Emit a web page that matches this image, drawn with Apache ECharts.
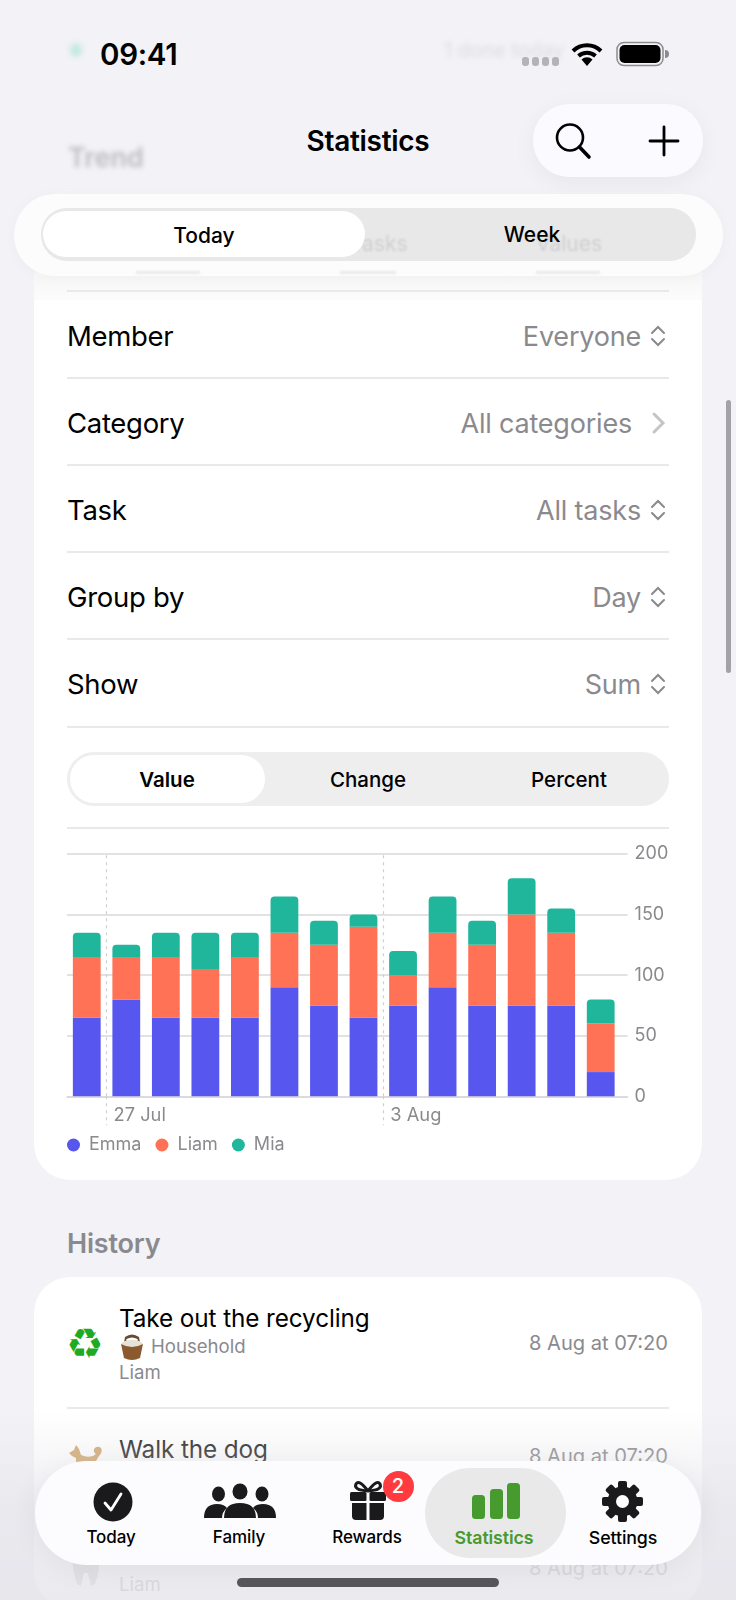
<!DOCTYPE html>
<html>
<head>
<meta charset="utf-8">
<title>Statistics</title>
<script src="https://cdn.jsdelivr.net/npm/echarts@6/dist/echarts.min.js"></script>
<style>
  html, body { margin: 0; padding: 0; }
  body { width: 736px; height: 1600px; position: relative; overflow: hidden; background: #f2f2f7; font-family: Inter, "Noto Sans", sans-serif; color: #000; }
  .abs { position: absolute; }
  .t { position: absolute; white-space: nowrap; transform: translateY(-50%); }
  .r { position: absolute; white-space: nowrap; transform: translateY(-50%); text-align: right; }
  .c { position: absolute; white-space: nowrap; transform: translate(-50%, -50%); }
  .card { position: absolute; left: 34px; width: 668px; background: #fff; border-radius: 36px; }
  .line { position: absolute; left: 67px; width: 602px; height: 2px; background: #e9e9ec; }
  .rowName { font-size: 27.5px; letter-spacing: -0.3px; }
  .rowVal { font-size: 27px; color: #8a8a8e; letter-spacing: -0.2px; right: 95px; }
  .sub { font-size: 18.6px; color: #8a8a8e; }
  .date { font-size: 20.1px; color: #8a8a8e; right: 68px; }
  .tab { font-size: 17px; font-weight: 500; top: 1537px; letter-spacing: -0.1px; }
  svg { position: absolute; overflow: visible; }
  #chart { position: absolute; left: 0; top: 820px; width: 736px; height: 345px; }
</style>
</head>
<body>
  <!-- blurred page behind the bars -->
  <div class="abs" style="left:70px;top:43px;width:12px;height:14px;border-radius:7px;background:#c6e9e2;filter:blur(2.5px)"></div>
  <div class="t" style="left:444px;top:50px;font-size:20px;color:#dcdce0;filter:blur(2.5px)">1 done today</div>
  <div class="t" style="left:68px;top:157px;font-size:27px;font-weight:600;color:#bcbcc0;filter:blur(2.5px)">Trend</div>

  <div class="card" style="top:190px;height:990px;"></div>
  <div class="abs" style="left:34px;top:190px;width:668px;height:110px;border-radius:36px 36px 0 0;background:linear-gradient(#f4f4f8,#f7f7f8 80%,#fcfcfc)"></div>

  <!-- status bar -->
  <div class="t" style="left:100px;top:54px;font-size:29.5px;font-weight:600;letter-spacing:-0.3px">09:41</div>
  <svg style="left:522px;top:57px" width="38" height="10"><g fill="#b4b4b8"><rect x="0" y="0" width="7" height="9" rx="3"/><rect x="10" y="0" width="7" height="9" rx="3"/><rect x="20" y="0" width="7" height="9" rx="3"/><rect x="30" y="0" width="7" height="9" rx="3"/></g></svg>
  <svg style="left:571px;top:42px" width="32" height="24" viewBox="0 0 32 24">
    <path d="M2 9 A20 20 0 0 1 30 9" fill="none" stroke="#000" stroke-width="4"/>
    <path d="M7.5 14 A13 13 0 0 1 24.5 14" fill="none" stroke="#000" stroke-width="4"/>
    <path d="M16 24 L10.5 17.5 A8 8 0 0 1 21.500 17.500 Z" fill="#000"/>
  </svg>
  <svg style="left:616px;top:41px" width="54" height="26" viewBox="0 0 54 26">
    <rect x="1" y="1.500" width="46" height="23" rx="7" fill="none" stroke="#8c8c8e" stroke-width="1.500"/>
    <rect x="3.500" y="4" width="41" height="18" rx="5" fill="#000"/>
    <path d="M49 9 a4 4 0 0 1 0 8 z" fill="#8c8c8e"/>
  </svg>

  <!-- nav -->
  <div class="c" style="left:368px;top:141px;font-size:28px;font-weight:600;letter-spacing:-0.3px">Statistics</div>
  <div class="abs" style="left:533px;top:104px;width:170px;height:73px;border-radius:36px;background:#fafaff;box-shadow:0 6px 24px rgba(0,0,0,0.05)"></div>
  <svg style="left:554px;top:122px" width="40" height="40">
    <circle cx="16" cy="15.500" r="13" fill="none" stroke="#000" stroke-width="2.600"/>
    <line x1="25.500" y1="25" x2="35" y2="35" stroke="#000" stroke-width="3.600" stroke-linecap="round"/>
  </svg>
  <svg style="left:648px;top:125px" width="32" height="32">
    <line x1="16" y1="2" x2="16" y2="30" stroke="#000" stroke-width="2.800" stroke-linecap="round"/>
    <line x1="2" y1="16" x2="30" y2="16" stroke="#000" stroke-width="2.800" stroke-linecap="round"/>
  </svg>

  <!-- today/week switch, page text shows through the track -->
  <div class="abs" style="left:14px;top:194px;width:709px;height:82px;border-radius:41px;background:rgba(252,252,252,0.96);box-shadow:0 2px 14px rgba(0,0,0,0.03)"></div>
  <div class="abs" style="left:136px;top:271px;width:64px;height:3px;background:#dedee0;opacity:0.6;filter:blur(1px)"></div>
  <div class="abs" style="left:340px;top:271px;width:56px;height:3px;background:#dedee0;opacity:0.6;filter:blur(1px)"></div>
  <div class="abs" style="left:536px;top:271px;width:64px;height:3px;background:#dedee0;opacity:0.6;filter:blur(1px)"></div>
  <div class="abs" style="left:41px;top:208px;width:655px;height:53px;border-radius:26px;background:#e8e8e9"></div>
  <div class="t" style="left:350px;top:243px;font-size:21px;color:#cfcfd1;filter:blur(1.2px)">Tasks</div>
  <div class="t" style="left:536px;top:243px;font-size:21px;color:#cfcfd1;filter:blur(1.2px)">Values</div>
  <div class="abs" style="left:43px;top:211px;width:322px;height:46px;border-radius:23px;background:#fff"></div>
  <div class="c" style="left:204px;top:235px;font-size:21px;font-weight:500">Today</div>
  <div class="c" style="left:532px;top:234px;font-size:21px;font-weight:500">Week</div>

  <!-- filter rows -->
  <div class="line" style="top:290px"></div>
  <div class="t rowName" style="left:67px;top:336px">Member</div>
  <div class="r rowVal" style="top:336px">Everyone</div>
  <div class="line" style="top:377px"></div>
  <div class="t rowName" style="left:67px;top:423px">Category</div>
  <div class="r rowVal" style="top:423px;right:104px">All categories</div>
  <div class="line" style="top:464px"></div>
  <div class="t rowName" style="left:67px;top:510px">Task</div>
  <div class="r rowVal" style="top:510px">All tasks</div>
  <div class="line" style="top:551px"></div>
  <div class="t rowName" style="left:67px;top:597px">Group by</div>
  <div class="r rowVal" style="top:597px">Day</div>
  <div class="line" style="top:638px"></div>
  <div class="t rowName" style="left:67px;top:684px">Show</div>
  <div class="r rowVal" style="top:684px">Sum</div>
  <div class="line" style="top:726px"></div>
  <svg style="left:650px;top:325px" width="16" height="22"><path d="M2 8 L8 2 L14 8 M2 14 L8 20 L14 14" fill="none" stroke="#8a8a8e" stroke-width="2" stroke-linecap="round"/></svg>
  <svg style="left:650px;top:499px" width="16" height="22"><path d="M2 8 L8 2 L14 8 M2 14 L8 20 L14 14" fill="none" stroke="#8a8a8e" stroke-width="2" stroke-linecap="round"/></svg>
  <svg style="left:650px;top:586px" width="16" height="22"><path d="M2 8 L8 2 L14 8 M2 14 L8 20 L14 14" fill="none" stroke="#8a8a8e" stroke-width="2" stroke-linecap="round"/></svg>
  <svg style="left:650px;top:673px" width="16" height="22"><path d="M2 8 L8 2 L14 8 M2 14 L8 20 L14 14" fill="none" stroke="#8a8a8e" stroke-width="2" stroke-linecap="round"/></svg>
  <svg style="left:652px;top:412px" width="14" height="22"><path d="M2 2 L11 11 L2 20" fill="none" stroke="#c5c5c8" stroke-width="3" stroke-linecap="round"/></svg>

  <!-- value/change/percent -->
  <div class="abs" style="left:67px;top:752px;width:602px;height:54px;border-radius:27px;background:#eeeeef"></div>
  <div class="abs" style="left:70px;top:755px;width:195px;height:48px;border-radius:24px;background:#fff"></div>
  <div class="c" style="left:167px;top:779px;font-size:20.5px;font-weight:600">Value</div>
  <div class="c" style="left:368px;top:779px;font-size:20.5px;font-weight:500">Change</div>
  <div class="c" style="left:569px;top:779px;font-size:20.5px;font-weight:500">Percent</div>
  <div class="line" style="top:827px"></div>

  <div id="chart"></div>

  <!-- history -->
  <div class="t" style="left:67px;top:1243px;font-size:27px;font-weight:600;color:#8a8a8e;letter-spacing:-0.2px">History</div>
  <div class="card" style="top:1277px;height:330px;"></div>
  <div class="t" style="left:66px;top:1343px;font-size:42px;color:#1faa24;font-family:'DejaVu Sans'">♻</div>
  <div class="t" style="left:119px;top:1318px;font-size:24.3px;letter-spacing:-0.1px">Take out the recycling</div>
  <svg style="left:120px;top:1335px" width="24" height="26"><path d="M5 2 Q12 -3 19 2 L20 8 L18 8 L17.500 4 Q12 1 6.500 4 L6 8 L4 8 Z" fill="#6a4a2c"/><ellipse cx="12" cy="9" rx="11" ry="4" fill="#e6e2d8"/><path d="M1 9 Q12 15 23 9 L20 23 Q12 27 4 23 Z" fill="#8a5a2e"/></svg>
  <div class="t sub" style="left:151px;top:1346px">Household</div>
  <div class="t sub" style="left:119px;top:1372px">Liam</div>
  <div class="r date" style="top:1343px">8 Aug at 07:20</div>
  <div class="line" style="top:1407px"></div>
  <svg style="left:69px;top:1445px" width="34" height="22"><path d="M0 8 L5 5 L7 0 L10 4 L12 10 Q18 13 24 11 L27 9 Q24 7 25 4 Q28 0 32 3 Q34 7 30 11 L27 16 L27 22 L7 22 L7 13 L3 11 Z" fill="#d3a76c"/></svg>
  <div class="t" style="left:119px;top:1449px;font-size:24.3px;letter-spacing:-0.1px;color:#222">Walk the dog</div>
  <div class="abs" style="left:120px;top:1475px;width:38px;height:8px;background:#b0b0b4;opacity:0.18;filter:blur(2px)"></div>
  <div class="r date" style="top:1456px">8 Aug at 07:20</div>
  <svg style="left:71px;top:1558px" width="30" height="28"><path d="M2 0 L28 0 Q29 12 24 26 L20 28 L17 15 L13 15 L10 28 L6 26 Q1 12 2 0 Z" fill="#dedede"/></svg>
  <div class="r date" style="top:1568px;color:#c4c4c8">8 Aug at 07:20</div>
  <div class="t sub" style="left:119px;top:1584px;color:#c4c4c8">Liam</div>
  <!-- page fades out under the tab bar -->
  <div class="abs" style="left:0;top:1410px;width:736px;height:190px;background:linear-gradient(rgba(226,226,232,0),rgba(226,226,232,0.55) 50%,rgba(226,226,232,0.7))"></div>

  <!-- scrollbar -->
  <div class="abs" style="left:726px;top:400px;width:5px;height:273px;border-radius:3px;background:#a3a3a7"></div>

  <!-- tab bar -->
  <div class="abs" style="left:35px;top:1461px;width:666px;height:104px;border-radius:52px;background:#fcfcfe;box-shadow:0 4px 30px rgba(0,0,0,0.06)"></div>
  <div class="abs" style="left:425px;top:1468px;width:141px;height:90px;border-radius:45px;background:#e9e9ea"></div>
  <svg style="left:93px;top:1482px" width="40" height="40">
    <circle cx="20" cy="20" r="19.500" fill="#1a1a1c"/>
    <path d="M12 21 L18 28 L28 12" fill="none" stroke="#fff" stroke-width="2.800" stroke-linecap="round" stroke-linejoin="round"/>
  </svg>
  <svg style="left:204px;top:1483px" width="72" height="36" fill="#1a1a1c">
    <ellipse cx="36" cy="8.500" rx="7.500" ry="8"/><ellipse cx="14.500" cy="11" rx="6.500" ry="7.500"/><ellipse cx="58" cy="11" rx="6.500" ry="7.500"/>
    <path d="M20 35 Q20 20 36 20 Q52 20 52 35 Z"/>
    <path d="M0 35 Q0 21 13 21 Q20 21 23 25 Q18 29 18 35 Z"/><path d="M72 35 Q72 21 59 21 Q52 21 49 25 Q54 29 54 35 Z"/>
  </svg>
  <svg style="left:349px;top:1481px" width="38" height="40" fill="#1a1a1c">
    <path d="M19 10 Q10 -2 7 3 Q4 9 19 10 Q34 9 31 3 Q28 -2 19 10" fill="none" stroke="#1a1a1c" stroke-width="3"/>
    <rect x="1" y="11" width="16.500" height="9" rx="1.500"/><rect x="20.500" y="11" width="16.500" height="9" rx="1.500"/>
    <path d="M3 22 H17.500 V39 H7 Q3 39 3 35 Z"/><path d="M35 22 H20.500 V39 H31 Q35 39 35 35 Z"/>
  </svg>
  <div class="abs" style="left:382.500px;top:1470.500px;width:31px;height:31px;border-radius:16px;background:#ff3b3f"></div>
  <div class="c" style="left:398px;top:1486px;font-size:20px;font-weight:500;color:#fff">2</div>
  <svg style="left:472px;top:1483px" width="48" height="36" fill="#479a2e">
    <rect x="0" y="12" width="13" height="24" rx="3.500"/><rect x="18" y="6" width="13" height="30" rx="3.500"/><rect x="35" y="0" width="13" height="36" rx="3.500"/>
  </svg>
  <svg style="left:602px;top:1481px" width="41" height="41" viewBox="-20.500 -20.500 41 41" fill="#1a1a1c">
    <g><rect x="-4.500" y="-20.500" width="9" height="41" rx="2"/><rect x="-4.500" y="-20.500" width="9" height="41" rx="2" transform="rotate(45)"/><rect x="-4.500" y="-20.500" width="9" height="41" rx="2" transform="rotate(90)"/><rect x="-4.500" y="-20.500" width="9" height="41" rx="2" transform="rotate(135)"/></g>
    <circle r="15" fill="#1a1a1c"/><circle r="6.500" fill="#fff"/>
  </svg>
  <div class="c tab" style="left:111px">Today</div>
  <div class="c tab" style="left:239px">Family</div>
  <div class="c tab" style="left:367px">Rewards</div>
  <div class="c tab" style="left:494px;color:#479a2e;font-weight:600;font-size:17.8px">Statistics</div>
  <div class="c tab" style="left:623px;font-size:17.8px">Settings</div>
  <div class="abs" style="left:237px;top:1578px;width:262px;height:9px;border-radius:5px;background:#55555a"></div>

<script>
  const days = ['2025-07-26', '2025-07-27', '2025-07-28', '2025-07-29', '2025-07-30', '2025-07-31', '2025-08-01', '2025-08-02', '2025-08-03', '2025-08-04', '2025-08-05', '2025-08-06', '2025-08-07', '2025-08-08']
  const emma = [65, 80, 65, 65, 65, 90, 75, 65, 75, 90, 75, 75, 75, 20]
  const liam = [50, 35, 50, 40, 50, 45, 50, 75, 25, 45, 50, 75, 60, 40]
  const mia = [20, 10, 20, 30, 20, 30, 20, 10, 20, 30, 20, 30, 20, 20]
  const yTicks = [0, 50, 100, 150, 200]
  const weekStarts = ['2025-07-27', '2025-08-03']
  const weekLabels = ['27 Jul', '3 Aug']

  const DAY = 24 * 3600 * 1000
  const plotWidth = 560.6
  const barWidth = 27.8
  const dayStart = d => Date.parse(d + 'T00:00:00Z')
  const weekMarks = weekStarts.map(dayStart)
  const xMin = dayStart(days[0])
  const xMax = dayStart(days[days.length - 1]) + DAY * 1.18
  // a time axis with bars on it widens its range by half a bar each side, take that off first
  const xPad = (xMax - xMin) * (barWidth / 2) / plotWidth
  // each bar sits in the middle of its day
  const toPoints = list => list.map((v, i) => [dayStart(days[i]) + DAY / 2, v])

  function barSeries (name, list, color, radius) {
    return {
      name: name,
      type: 'bar',
      stack: 'total',
      barWidth: barWidth,
      data: toPoints(list),
      itemStyle: { color: color, borderRadius: radius }
    }
  }

  const series = [
    barSeries('Emma', emma, '#5757f0', 0),
    barSeries('Liam', liam, '#ff7255', 0),
    barSeries('Mia', mia, '#20b69c', [4, 4, 0, 0])
  ]
  // dashed week lines inside the plot, the second x axis carries them under it
  series[0].markLine = {
    silent: true,
    symbol: 'none',
    label: { show: false },
    lineStyle: { color: '#cfcfd2', type: [3, 4], width: 1.2 },
    data: weekMarks.map(v => ({ xAxis: v }))
  }

  const myChart = echarts.init(document.getElementById('chart'))
  myChart.setOption({
    animation: false,
    textStyle: { fontFamily: 'Inter' },
    grid: { left: 67, width: plotWidth, top: 34, height: 242.3 },
    legend: {
      left: 67,
      top: 316,
      padding: 0,
      icon: 'circle',
      itemWidth: 13,
      itemHeight: 13,
      itemGap: 14,
      textStyle: { fontSize: 18, color: '#8a8a8e', padding: [0, 0, 0, 4] },
      data: ['Emma', 'Liam', 'Mia']
    },
    xAxis: [
      {
        type: 'time',
        min: xMin + xPad,
        max: xMax - xPad,
        splitLine: { show: false },
        axisLine: { show: true, onZero: false, lineStyle: { color: '#d9d9dc', width: 1.5 } },
        axisTick: { show: false },
        axisLabel: { show: false }
      },
      {
        // week marks only, time axes do not take custom ticks
        type: 'value',
        position: 'bottom',
        min: xMin,
        max: xMax,
        splitLine: { show: false },
        axisLine: { show: false },
        axisTick: {
          show: true,
          length: 29,
          customValues: weekMarks,
          lineStyle: { color: '#cfcfd2', type: [3, 4], width: 1.2 }
        },
        axisLabel: {
          show: true,
          customValues: weekMarks,
          align: 'left',
          margin: 10,
          padding: [0, 0, 0, 7],
          fontSize: 18.3,
          color: '#8a8a8e',
          formatter: v => weekLabels[weekMarks.indexOf(v)]
        }
      }
    ],
    yAxis: {
      type: 'value',
      position: 'right',
      min: yTicks[0],
      max: yTicks[yTicks.length - 1],
      interval: yTicks[1] - yTicks[0],
      axisLine: { show: false },
      axisTick: { show: false },
      splitLine: { lineStyle: { color: '#d9d9dc', width: 1.5 } },
      axisLabel: { margin: 7, fontSize: 18, color: '#8a8a8e', padding: [4, 0, 0, 0] }
    },
    series: series
  })
</script>
</body>
</html>
